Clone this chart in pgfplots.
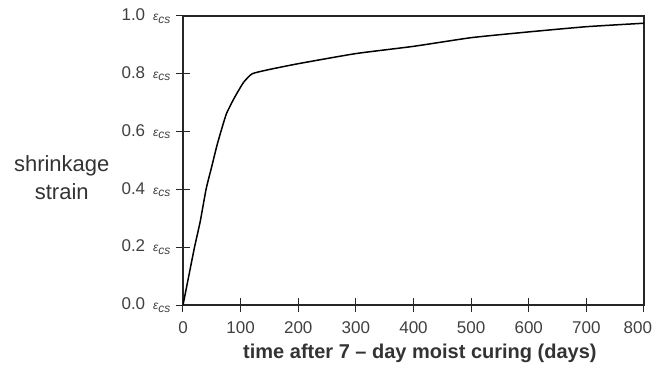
\documentclass[border=0pt]{standalone}
\usepackage{pgfplots}
\pgfplotsset{compat=1.18}
\usepackage{fontspec}
\setmainfont{Liberation Sans}
\newcommand{\ecs}{{\fontsize{12}{12}\selectfont\itshape ε\raisebox{-2.5pt}{cs}}}
\begin{document}
\begin{tikzpicture}
\useasboundingbox (-183pt,-76pt) rectangle (471pt,305pt);
\begin{axis}[
  scale only axis,
  width=461pt, height=289pt,
  xmin=0, xmax=800, ymin=0, ymax=1,
  axis line style={line width=1.2pt, black!85},
  xtick={0,100,...,800},
  xticklabels={0,100,200,300,400,500,600,700,\makebox[0pt][r]{800\hspace{-8pt}}},
  ytick={0,0.2,...,1.0},
  yticklabels={0.0\hspace{8pt}\ecs,0.2\hspace{8pt}\ecs,0.4\hspace{8pt}\ecs,0.6\hspace{8pt}\ecs,0.8\hspace{8pt}\ecs,1.0\hspace{8pt}\ecs},
  tick align=center,
  major tick length=14pt,
  tick style={line width=1pt, black!85},
  xtick pos=bottom, ytick pos=left,
  /pgf/number format/assume math mode=true,
  tick label style={font=\fontsize{17}{17}\selectfont, text=black!75},
  xticklabel style={yshift=-6pt},
  yticklabel style={xshift=-2pt},
  xlabel={time after 7 -- day moist curing (days)},
  xlabel style={font=\fontsize{20}{20}\selectfont\bfseries, text=black!80, at={(axis description cs:0.514,-0.166)}, anchor=center},
  ylabel={shrinkage\\strain},
  ylabel style={font=\fontsize{22}{28}\selectfont, text=black!80, rotate=-90, align=center, at={(axis description cs:-0.263,0.44)}, anchor=center},
]
\addplot[black, line width=1.5pt, smooth, tension=0.3] coordinates {
(0,0) (10,0.1) (20,0.2) (30,0.29) (40,0.40) (50,0.48) (60,0.56) (75,0.66) (90,0.72) (105,0.77) (120,0.80) (150,0.815) (200,0.835) (300,0.87) (400,0.895) (500,0.925) (600,0.945) (700,0.963) (800,0.975)
};
\end{axis}
\end{tikzpicture}
\end{document}
